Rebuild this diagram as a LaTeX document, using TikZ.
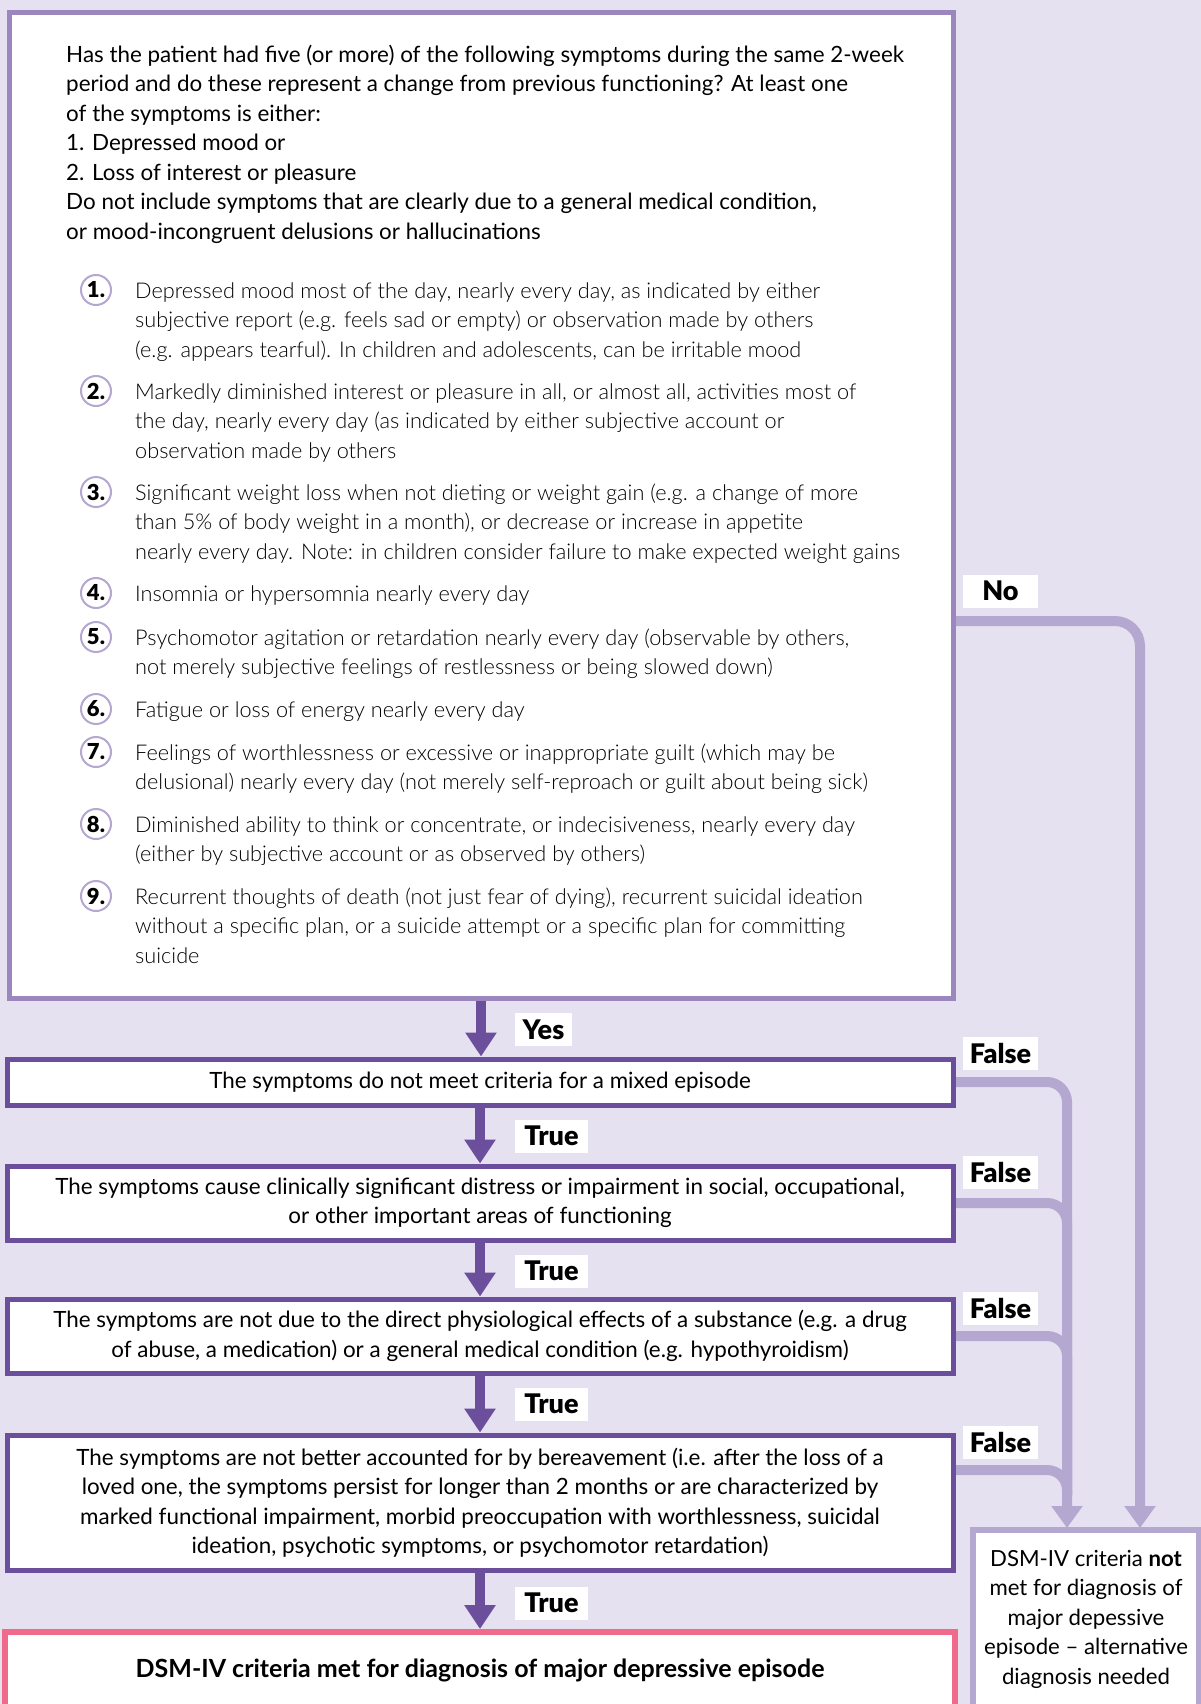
\documentclass[tikz,border=0pt]{standalone}
\usepackage{fontspec}
\setmainfont{Lato}
\newfontfamily\lightfont{Lato Light}
\newfontfamily\blackfont{Lato Black}
\usetikzlibrary{arrows.meta}
\pgfdeclarelayer{back}
\pgfdeclarelayer{lines}
\pgfsetlayers{back,lines,main}
\definecolor{bgc}{HTML}{E6E1F0}
\definecolor{darkp}{HTML}{6B4F9C}
\definecolor{midp}{HTML}{9B86BE}
\definecolor{lightp}{HTML}{B5A8D0}
\definecolor{pinkc}{HTML}{F06A8C}
\newcommand\hfnt{\fontsize{22.4}{29.5}\selectfont}
\newcommand\ifnt{\lightfont\fontsize{21.7}{29.5}\selectfont}
\newcommand\lfnt{\blackfont\fontsize{27}{27}\selectfont}
\newcommand\hs{\rule{0pt}{18pt}}
\begin{document}
\begin{tikzpicture}[x=1pt,y=-1pt,
 box/.style={draw=darkp,line width=5pt,fill=white,inner sep=0pt,align=center,font=\hfnt},
 lbl/.style={fill=white,inner sep=0pt,minimum height=33pt,font=\lfnt},
 numc/.style={circle,draw=lightp,line width=2pt,fill=white,minimum size=30pt,inner sep=0pt,font=\blackfont\fontsize{22}{22}\selectfont},
 itm/.style={anchor=north west,inner sep=0pt,align=left,font=\ifnt},
 downarr/.style={draw=darkp,line width=10pt,-{Triangle[width=30pt,length=24pt]}},
 sidearr/.style={draw=lightp,line width=10pt,rounded corners=20pt},
 sidetip/.style={-{Triangle[width=30pt,length=22pt]}}
]
\useasboundingbox (0,0) rectangle (1201,1704);
\begin{pgfonlayer}{back}
\fill[bgc] (0,0) rectangle (1201,1704);
\end{pgfonlayer}

% question box
\node[box,draw=midp,minimum width=944pt,minimum height=985pt] (q) at (481,505.5) {};
\node[anchor=north west,inner sep=0pt,align=left,font=\hfnt] (head) at (66,44) {\hs Has the patient had five (or more) of the following symptoms during the same 2-week\\
period and do these represent a change from previous functioning? At least one\\
of the symptoms is either:\\
1. Depressed mood or\\
2. Loss of interest or pleasure\\
Do not include symptoms that are clearly due to a general medical condition,\\
or mood-incongruent delusions or hallucinations};

\node[numc] (n1) at (96,290) {1.};
\node[itm] (i1) at (135,280) {\hs Depressed mood most of the day, nearly every day, as indicated by either\\
subjective report (e.g. feels sad or empty) or observation made by others\\
(e.g. appears tearful). In children and adolescents, can be irritable mood};
\node[numc] (n2) at (96,391) {2.};
\node[itm] (i2) at (135,381) {\hs Markedly diminished interest or pleasure in all, or almost all, activities most of\\
the day, nearly every day (as indicated by either subjective account or\\
observation made by others};
\node[numc] (n3) at (96,492) {3.};
\node[itm] (i3) at (135,482) {\hs Significant weight loss when not dieting or weight gain (e.g. a change of more\\
than 5\% of body weight in a month), or decrease or increase in appetite\\
nearly every day. Note: in children consider failure to make expected weight gains};
\node[numc] (n4) at (96,593) {4.};
\node[itm] (i4) at (135,583) {\hs Insomnia or hypersomnia nearly every day};
\node[numc] (n5) at (96,637) {5.};
\node[itm] (i5) at (135,627) {\hs Psychomotor agitation or retardation nearly every day (observable by others,\\
not merely subjective feelings of restlessness or being slowed down)};
\node[numc] (n6) at (96,709) {6.};
\node[itm] (i6) at (135,699) {\hs Fatigue or loss of energy nearly every day};
\node[numc] (n7) at (96,752) {7.};
\node[itm] (i7) at (135,742) {\hs Feelings of worthlessness or excessive or inappropriate guilt (which may be\\
delusional) nearly every day (not merely self-reproach or guilt about being sick)};
\node[numc] (n8) at (96,824) {8.};
\node[itm] (i8) at (135,814) {\hs Diminished ability to think or concentrate, or indecisiveness, nearly every day\\
(either by subjective account or as observed by others)};
\node[numc] (n9) at (96,896) {9.};
\node[itm] (i9) at (135,886) {\hs Recurrent thoughts of death (not just fear of dying), recurrent suicidal ideation\\
without a specific plan, or a suicide attempt or a specific plan for committing\\
suicide};

% criteria boxes
\node[box,minimum width=946pt,minimum height=46pt] (b2) at (480,1082) {The symptoms do not meet criteria for a mixed episode};
\node[box,minimum width=946pt,minimum height=74pt] (b3) at (480,1203) {The symptoms cause clinically significant distress or impairment in social, occupational,\\ or other important areas of functioning};
\node[box,minimum width=946pt,minimum height=74pt] (b4) at (480,1336) {The symptoms are not due to the direct physiological effects of a substance (e.g. a drug\\ of abuse, a medication) or a general medical condition (e.g. hypothyroidism)};
\node[box,minimum width=946pt,minimum height=135pt] (b5) at (480,1502.5) {The symptoms are not better accounted for by bereavement (i.e. after the loss of a\\ loved one, the symptoms persist for longer than 2 months or are characterized by\\ marked functional impairment, morbid preoccupation with worthlessness, suicidal\\ ideation, psychotic symptoms, or psychomotor retardation)};
\node[box,draw=pinkc,line width=6pt,minimum width=950pt,minimum height=76pt,font=\bfseries\fontsize{25}{29.5}\selectfont] (met) at (480,1670) {DSM-IV criteria met for diagnosis of major depressive episode};
\node[box,draw=lightp,line width=6pt,minimum width=226pt,minimum height=178pt,font=\fontsize{22.2}{29.5}\selectfont] (notmet) at (1086,1619) {DSM-IV criteria \textbf{not}\\ met for diagnosis of\\ major depessive\\ episode -- alternative\\ diagnosis needed};

% labels
\node[lbl,minimum width=57pt] (yes) at (543.5,1029.5) {Yes};
\node[lbl,minimum width=73pt] (t1) at (551.5,1136) {True};
\node[lbl,minimum width=73pt] (t2) at (551.5,1271) {True};
\node[lbl,minimum width=73pt] (t3) at (551.5,1404) {True};
\node[lbl,minimum width=73pt] (t4) at (551.5,1603) {True};
\node[lbl,minimum width=75pt] (f1) at (1000.5,1053) {False};
\node[lbl,minimum width=75pt] (f2) at (1000.5,1172) {False};
\node[lbl,minimum width=75pt] (f3) at (1000.5,1308) {False};
\node[lbl,minimum width=75pt] (f4) at (1000.5,1442) {False};
\node[lbl,minimum width=75pt] (no) at (1000.5,591) {No};

\coordinate (mf) at (1067,1528);
\coordinate (mfu) at (1067,1495);
\coordinate (mn) at (1140,1528);

\begin{pgfonlayer}{lines}
\draw[downarr] (q.south) -- (q.south |- b2.north);
\draw[downarr] (b2.south) -- (b3.north);
\draw[downarr] (b3.south) -- (b4.north);
\draw[downarr] (b4.south) -- (b5.north);
\draw[downarr] (b5.south) -- (met.north);
\draw[sidearr,sidetip] (b2.east) -| (mf);
\draw[sidearr] (b3.east) -| (mfu);
\draw[sidearr] (b4.east) -| (mfu);
\draw[sidearr] (b5.east |- 0,1470) -| (mfu);
\draw[sidearr,rounded corners=25pt,sidetip] (q.east |- 0,621) -| (mn);
\end{pgfonlayer}
\end{tikzpicture}
\end{document}
